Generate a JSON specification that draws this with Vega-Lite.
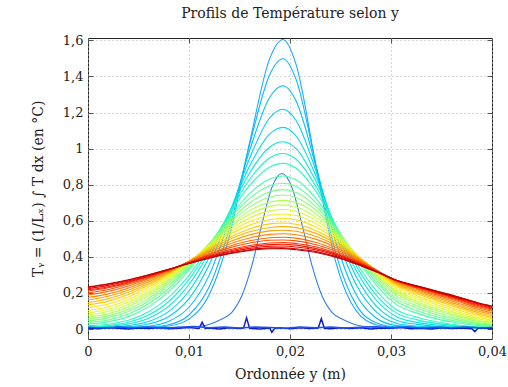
{
"$schema":"https://vega.github.io/schema/vega-lite/v6.json",
"width":404,"height":301,
"autosize":{"type":"none"},
"padding":{"left":88,"top":38,"right":16,"bottom":48},
"background":"white",
"config":{"font":"DejaVu Serif","view":{"stroke":"#222","strokeWidth":1},
"axis":{"labelFont":"DejaVu Serif","titleFont":"DejaVu Serif","labelColor":"#222","titleColor":"#222","labelFontSize":13,"titleFontSize":14,"titleFontWeight":"normal","tickColor":"#555","domain":false}},
"title":{"text":"Profils de Température selon y","fontSize":14,"fontWeight":"normal","font":"DejaVu Serif","color":"#222","offset":13,"anchor":"middle"},
"data":{"values":[
{"k":0,"y":0,"v":0.006},{"k":0,"y":0.001,"v":0.002},{"k":0,"y":0.002,"v":0.007},{"k":0,"y":0.003,"v":0.004},{"k":0,"y":0.004,"v":0.001},{"k":0,"y":0.005,"v":0.006},{"k":0,"y":0.006,"v":0.003},{"k":0,"y":0.007,"v":0.008},{"k":0,"y":0.008,"v":0.002},{"k":0,"y":0.009,"v":0.005},{"k":0,"y":0.01,"v":0.009},{"k":0,"y":0.011,"v":0.003},{"k":0,"y":0.0113,"v":0.038},{"k":0,"y":0.0116,"v":0.004},{"k":0,"y":0.012,"v":0.006},{"k":0,"y":0.013,"v":0.001},{"k":0,"y":0.014,"v":0.007},{"k":0,"y":0.015,"v":0.003},{"k":0,"y":0.0154,"v":0.005},{"k":0,"y":0.0157,"v":0.062},{"k":0,"y":0.016,"v":0.004},{"k":0,"y":0.017,"v":0.0},{"k":0,"y":0.018,"v":0.006},{"k":0,"y":0.0182,"v":-0.018},{"k":0,"y":0.0185,"v":0.004},{"k":0,"y":0.019,"v":0.007},{"k":0,"y":0.02,"v":0.002},{"k":0,"y":0.021,"v":0.008},{"k":0,"y":0.022,"v":0.003},{"k":0,"y":0.0228,"v":0.006},{"k":0,"y":0.0231,"v":0.058},{"k":0,"y":0.0234,"v":0.005},{"k":0,"y":0.024,"v":0.002},{"k":0,"y":0.025,"v":0.007},{"k":0,"y":0.026,"v":0.003},{"k":0,"y":0.027,"v":0.008},{"k":0,"y":0.028,"v":0.001},{"k":0,"y":0.029,"v":0.006},{"k":0,"y":0.03,"v":0.004},{"k":0,"y":0.031,"v":0.009},{"k":0,"y":0.032,"v":0.002},{"k":0,"y":0.033,"v":0.005},{"k":0,"y":0.034,"v":0.001},{"k":0,"y":0.035,"v":0.007},{"k":0,"y":0.036,"v":0.003},{"k":0,"y":0.037,"v":0.006},{"k":0,"y":0.038,"v":0.002},{"k":0,"y":0.0383,"v":-0.014},{"k":0,"y":0.0386,"v":0.004},{"k":0,"y":0.039,"v":0.006},{"k":0,"y":0.04,"v":0.003},
{"k":1,"y":0,"v":0.01},{"k":1,"y":0.0015,"v":0.006},{"k":1,"y":0.003,"v":0.011},{"k":1,"y":0.0045,"v":0.007},{"k":1,"y":0.006,"v":0.012},{"k":1,"y":0.0075,"v":0.005},{"k":1,"y":0.009,"v":0.01},{"k":1,"y":0.0105,"v":0.014},{"k":1,"y":0.012,"v":0.007},{"k":1,"y":0.0135,"v":0.011},{"k":1,"y":0.015,"v":0.006},{"k":1,"y":0.0165,"v":0.012},{"k":1,"y":0.018,"v":0.009},{"k":1,"y":0.0195,"v":0.005},{"k":1,"y":0.021,"v":0.011},{"k":1,"y":0.0225,"v":0.007},{"k":1,"y":0.024,"v":0.012},{"k":1,"y":0.0255,"v":0.006},{"k":1,"y":0.027,"v":0.01},{"k":1,"y":0.0285,"v":0.013},{"k":1,"y":0.03,"v":0.007},{"k":1,"y":0.0315,"v":0.011},{"k":1,"y":0.033,"v":0.006},{"k":1,"y":0.0345,"v":0.01},{"k":1,"y":0.036,"v":0.008},{"k":1,"y":0.0375,"v":0.012},{"k":1,"y":0.039,"v":0.006},{"k":1,"y":0.04,"v":0.009},
{"k":2,"y":0,"v":0.008},{"k":2,"y":0.008,"v":0.009},{"k":2,"y":0.0112,"v":0.016},{"k":2,"y":0.0122,"v":0.03},{"k":2,"y":0.0132,"v":0.055},{"k":2,"y":0.0142,"v":0.09},{"k":2,"y":0.0152,"v":0.18},{"k":2,"y":0.0162,"v":0.347},{"k":2,"y":0.0172,"v":0.577},{"k":2,"y":0.0182,"v":0.784},{"k":2,"y":0.0192,"v":0.862},{"k":2,"y":0.0202,"v":0.784},{"k":2,"y":0.0212,"v":0.577},{"k":2,"y":0.0222,"v":0.347},{"k":2,"y":0.0232,"v":0.18},{"k":2,"y":0.0242,"v":0.09},{"k":2,"y":0.0252,"v":0.055},{"k":2,"y":0.0262,"v":0.03},{"k":2,"y":0.0272,"v":0.016},{"k":2,"y":0.03,"v":0.009},{"k":2,"y":0.04,"v":0.008},
{"k":3,"y":0,"v":0.008},{"k":3,"y":0.002,"v":0.009},{"k":3,"y":0.004,"v":0.007},{"k":3,"y":0.006,"v":0.009},{"k":3,"y":0.008,"v":0.017},{"k":3,"y":0.01,"v":0.055},{"k":3,"y":0.012,"v":0.19},{"k":3,"y":0.014,"v":0.516},{"k":3,"y":0.016,"v":1.034},{"k":3,"y":0.018,"v":1.5},{"k":3,"y":0.0193,"v":1.605},{"k":3,"y":0.0206,"v":1.467},{"k":3,"y":0.0226,"v":0.896},{"k":3,"y":0.0246,"v":0.358},{"k":3,"y":0.0266,"v":0.098},{"k":3,"y":0.0286,"v":0.023},{"k":3,"y":0.0306,"v":0.01},{"k":3,"y":0.0326,"v":0.008},{"k":3,"y":0.0346,"v":0.009},{"k":3,"y":0.0366,"v":0.007},{"k":3,"y":0.0386,"v":0.008},{"k":3,"y":0.04,"v":0.008},
{"k":4,"y":0,"v":0.007},{"k":4,"y":0.002,"v":0.009},{"k":4,"y":0.004,"v":0.008},{"k":4,"y":0.006,"v":0.011},{"k":4,"y":0.008,"v":0.024},{"k":4,"y":0.01,"v":0.078},{"k":4,"y":0.012,"v":0.234},{"k":4,"y":0.014,"v":0.559},{"k":4,"y":0.016,"v":1.021},{"k":4,"y":0.018,"v":1.411},{"k":4,"y":0.0193,"v":1.498},{"k":4,"y":0.0206,"v":1.384},{"k":4,"y":0.0226,"v":0.902},{"k":4,"y":0.0246,"v":0.407},{"k":4,"y":0.0266,"v":0.13},{"k":4,"y":0.0286,"v":0.034},{"k":4,"y":0.0306,"v":0.012},{"k":4,"y":0.0326,"v":0.009},{"k":4,"y":0.0346,"v":0.007},{"k":4,"y":0.0366,"v":0.008},{"k":4,"y":0.0386,"v":0.009},{"k":4,"y":0.04,"v":0.008},
{"k":5,"y":0,"v":0.009},{"k":5,"y":0.002,"v":0.008},{"k":5,"y":0.004,"v":0.01},{"k":5,"y":0.006,"v":0.016},{"k":5,"y":0.008,"v":0.043},{"k":5,"y":0.01,"v":0.121},{"k":5,"y":0.012,"v":0.299},{"k":5,"y":0.014,"v":0.608},{"k":5,"y":0.016,"v":0.989},{"k":5,"y":0.018,"v":1.285},{"k":5,"y":0.0193,"v":1.348},{"k":5,"y":0.0206,"v":1.264},{"k":5,"y":0.0226,"v":0.894},{"k":5,"y":0.0246,"v":0.47},{"k":5,"y":0.0266,"v":0.186},{"k":5,"y":0.0286,"v":0.059},{"k":5,"y":0.0306,"v":0.019},{"k":5,"y":0.0326,"v":0.011},{"k":5,"y":0.0346,"v":0.008},{"k":5,"y":0.0366,"v":0.009},{"k":5,"y":0.0386,"v":0.007},{"k":5,"y":0.04,"v":0.008},
{"k":6,"y":0,"v":0.008},{"k":6,"y":0.002,"v":0.009},{"k":6,"y":0.004,"v":0.013},{"k":6,"y":0.006,"v":0.028},{"k":6,"y":0.008,"v":0.07},{"k":6,"y":0.01,"v":0.169},{"k":6,"y":0.012,"v":0.357},{"k":6,"y":0.014,"v":0.636},{"k":6,"y":0.016,"v":0.946},{"k":6,"y":0.018,"v":1.171},{"k":6,"y":0.0193,"v":1.218},{"k":6,"y":0.0206,"v":1.156},{"k":6,"y":0.0226,"v":0.872},{"k":6,"y":0.0246,"v":0.516},{"k":6,"y":0.0266,"v":0.241},{"k":6,"y":0.0286,"v":0.092},{"k":6,"y":0.0306,"v":0.031},{"k":6,"y":0.0326,"v":0.017},{"k":6,"y":0.0346,"v":0.011},{"k":6,"y":0.0366,"v":0.009},{"k":6,"y":0.0386,"v":0.008},{"k":6,"y":0.04,"v":0.008},
{"k":7,"y":0,"v":0.009},{"k":7,"y":0.002,"v":0.011},{"k":7,"y":0.004,"v":0.019},{"k":7,"y":0.006,"v":0.042},{"k":7,"y":0.008,"v":0.098},{"k":7,"y":0.01,"v":0.211},{"k":7,"y":0.012,"v":0.398},{"k":7,"y":0.014,"v":0.647},{"k":7,"y":0.016,"v":0.904},{"k":7,"y":0.018,"v":1.082},{"k":7,"y":0.0193,"v":1.118},{"k":7,"y":0.0206,"v":1.07},{"k":7,"y":0.0226,"v":0.844},{"k":7,"y":0.0246,"v":0.542},{"k":7,"y":0.0266,"v":0.286},{"k":7,"y":0.0286,"v":0.125},{"k":7,"y":0.0306,"v":0.048},{"k":7,"y":0.0326,"v":0.026},{"k":7,"y":0.0346,"v":0.015},{"k":7,"y":0.0366,"v":0.011},{"k":7,"y":0.0386,"v":0.009},{"k":7,"y":0.04,"v":0.008},
{"k":8,"y":0,"v":0.011},{"k":8,"y":0.002,"v":0.015},{"k":8,"y":0.004,"v":0.028},{"k":8,"y":0.006,"v":0.06},{"k":8,"y":0.008,"v":0.127},{"k":8,"y":0.01,"v":0.247},{"k":8,"y":0.012,"v":0.426},{"k":8,"y":0.014,"v":0.648},{"k":8,"y":0.016,"v":0.865},{"k":8,"y":0.018,"v":1.009},{"k":8,"y":0.0193,"v":1.038},{"k":8,"y":0.0206,"v":1.0},{"k":8,"y":0.0226,"v":0.815},{"k":8,"y":0.0246,"v":0.557},{"k":8,"y":0.0266,"v":0.32},{"k":8,"y":0.0286,"v":0.157},{"k":8,"y":0.0306,"v":0.067},{"k":8,"y":0.0326,"v":0.037},{"k":8,"y":0.0346,"v":0.022},{"k":8,"y":0.0366,"v":0.014},{"k":8,"y":0.0386,"v":0.01},{"k":8,"y":0.04,"v":0.009},
{"k":9,"y":0,"v":0.014},{"k":9,"y":0.002,"v":0.02},{"k":9,"y":0.004,"v":0.038},{"k":9,"y":0.006,"v":0.078},{"k":9,"y":0.008,"v":0.153},{"k":9,"y":0.01,"v":0.275},{"k":9,"y":0.012,"v":0.445},{"k":9,"y":0.014,"v":0.644},{"k":9,"y":0.016,"v":0.829},{"k":9,"y":0.018,"v":0.949},{"k":9,"y":0.0193,"v":0.973},{"k":9,"y":0.0206,"v":0.941},{"k":9,"y":0.0226,"v":0.787},{"k":9,"y":0.0246,"v":0.563},{"k":9,"y":0.0266,"v":0.346},{"k":9,"y":0.0286,"v":0.184},{"k":9,"y":0.0306,"v":0.087},{"k":9,"y":0.0326,"v":0.051},{"k":9,"y":0.0346,"v":0.03},{"k":9,"y":0.0366,"v":0.018},{"k":9,"y":0.0386,"v":0.011},{"k":9,"y":0.04,"v":0.01},
{"k":10,"y":0,"v":0.019},{"k":10,"y":0.002,"v":0.027},{"k":10,"y":0.004,"v":0.049},{"k":10,"y":0.006,"v":0.096},{"k":10,"y":0.008,"v":0.177},{"k":10,"y":0.01,"v":0.298},{"k":10,"y":0.012,"v":0.458},{"k":10,"y":0.014,"v":0.636},{"k":10,"y":0.016,"v":0.796},{"k":10,"y":0.018,"v":0.898},{"k":10,"y":0.0193,"v":0.918},{"k":10,"y":0.0206,"v":0.891},{"k":10,"y":0.0226,"v":0.76},{"k":10,"y":0.0246,"v":0.565},{"k":10,"y":0.0266,"v":0.366},{"k":10,"y":0.0286,"v":0.209},{"k":10,"y":0.0306,"v":0.106},{"k":10,"y":0.0326,"v":0.065},{"k":10,"y":0.0346,"v":0.039},{"k":10,"y":0.0366,"v":0.023},{"k":10,"y":0.0386,"v":0.014},{"k":10,"y":0.04,"v":0.011},
{"k":11,"y":0,"v":0.028},{"k":11,"y":0.002,"v":0.04},{"k":11,"y":0.004,"v":0.069},{"k":11,"y":0.006,"v":0.123},{"k":11,"y":0.008,"v":0.208},{"k":11,"y":0.01,"v":0.325},{"k":11,"y":0.012,"v":0.469},{"k":11,"y":0.014,"v":0.62},{"k":11,"y":0.016,"v":0.751},{"k":11,"y":0.018,"v":0.832},{"k":11,"y":0.0193,"v":0.848},{"k":11,"y":0.0206,"v":0.827},{"k":11,"y":0.0226,"v":0.722},{"k":11,"y":0.0246,"v":0.561},{"k":11,"y":0.0266,"v":0.388},{"k":11,"y":0.0286,"v":0.24},{"k":11,"y":0.0306,"v":0.134},{"k":11,"y":0.0326,"v":0.087},{"k":11,"y":0.0346,"v":0.055},{"k":11,"y":0.0366,"v":0.034},{"k":11,"y":0.0386,"v":0.02},{"k":11,"y":0.04,"v":0.015},
{"k":12,"y":0,"v":0.037},{"k":12,"y":0.002,"v":0.05},{"k":12,"y":0.004,"v":0.083},{"k":12,"y":0.006,"v":0.14},{"k":12,"y":0.008,"v":0.225},{"k":12,"y":0.01,"v":0.339},{"k":12,"y":0.012,"v":0.472},{"k":12,"y":0.014,"v":0.609},{"k":12,"y":0.016,"v":0.724},{"k":12,"y":0.018,"v":0.794},{"k":12,"y":0.0193,"v":0.808},{"k":12,"y":0.0206,"v":0.79},{"k":12,"y":0.0226,"v":0.698},{"k":12,"y":0.0246,"v":0.555},{"k":12,"y":0.0266,"v":0.397},{"k":12,"y":0.0286,"v":0.257},{"k":12,"y":0.0306,"v":0.151},{"k":12,"y":0.0326,"v":0.102},{"k":12,"y":0.0346,"v":0.067},{"k":12,"y":0.0366,"v":0.042},{"k":12,"y":0.0386,"v":0.025},{"k":12,"y":0.04,"v":0.018},
{"k":13,"y":0,"v":0.046},{"k":13,"y":0.002,"v":0.062},{"k":13,"y":0.004,"v":0.097},{"k":13,"y":0.006,"v":0.156},{"k":13,"y":0.008,"v":0.241},{"k":13,"y":0.01,"v":0.349},{"k":13,"y":0.012,"v":0.473},{"k":13,"y":0.014,"v":0.597},{"k":13,"y":0.016,"v":0.699},{"k":13,"y":0.018,"v":0.761},{"k":13,"y":0.0193,"v":0.773},{"k":13,"y":0.0206,"v":0.757},{"k":13,"y":0.0226,"v":0.677},{"k":13,"y":0.0246,"v":0.549},{"k":13,"y":0.0266,"v":0.404},{"k":13,"y":0.0286,"v":0.271},{"k":13,"y":0.0306,"v":0.166},{"k":13,"y":0.0326,"v":0.116},{"k":13,"y":0.0346,"v":0.078},{"k":13,"y":0.0366,"v":0.051},{"k":13,"y":0.0386,"v":0.03},{"k":13,"y":0.04,"v":0.022},
{"k":14,"y":0,"v":0.056},{"k":14,"y":0.002,"v":0.073},{"k":14,"y":0.004,"v":0.11},{"k":14,"y":0.006,"v":0.17},{"k":14,"y":0.008,"v":0.254},{"k":14,"y":0.01,"v":0.357},{"k":14,"y":0.012,"v":0.473},{"k":14,"y":0.014,"v":0.585},{"k":14,"y":0.016,"v":0.677},{"k":14,"y":0.018,"v":0.732},{"k":14,"y":0.0193,"v":0.743},{"k":14,"y":0.0206,"v":0.729},{"k":14,"y":0.0226,"v":0.657},{"k":14,"y":0.0246,"v":0.541},{"k":14,"y":0.0266,"v":0.408},{"k":14,"y":0.0286,"v":0.282},{"k":14,"y":0.0306,"v":0.18},{"k":14,"y":0.0326,"v":0.128},{"k":14,"y":0.0346,"v":0.089},{"k":14,"y":0.0366,"v":0.059},{"k":14,"y":0.0386,"v":0.036},{"k":14,"y":0.04,"v":0.026},
{"k":15,"y":0,"v":0.067},{"k":15,"y":0.002,"v":0.085},{"k":15,"y":0.004,"v":0.124},{"k":15,"y":0.006,"v":0.184},{"k":15,"y":0.008,"v":0.266},{"k":15,"y":0.01,"v":0.363},{"k":15,"y":0.012,"v":0.47},{"k":15,"y":0.014,"v":0.572},{"k":15,"y":0.016,"v":0.655},{"k":15,"y":0.018,"v":0.704},{"k":15,"y":0.0193,"v":0.713},{"k":15,"y":0.0206,"v":0.701},{"k":15,"y":0.0226,"v":0.637},{"k":15,"y":0.0246,"v":0.533},{"k":15,"y":0.0266,"v":0.411},{"k":15,"y":0.0286,"v":0.293},{"k":15,"y":0.0306,"v":0.193},{"k":15,"y":0.0326,"v":0.141},{"k":15,"y":0.0346,"v":0.101},{"k":15,"y":0.0366,"v":0.069},{"k":15,"y":0.0386,"v":0.043},{"k":15,"y":0.04,"v":0.032},
{"k":16,"y":0,"v":0.078},{"k":16,"y":0.002,"v":0.097},{"k":16,"y":0.004,"v":0.136},{"k":16,"y":0.006,"v":0.196},{"k":16,"y":0.008,"v":0.275},{"k":16,"y":0.01,"v":0.367},{"k":16,"y":0.012,"v":0.467},{"k":16,"y":0.014,"v":0.561},{"k":16,"y":0.016,"v":0.636},{"k":16,"y":0.018,"v":0.68},{"k":16,"y":0.0193,"v":0.688},{"k":16,"y":0.0206,"v":0.677},{"k":16,"y":0.0226,"v":0.619},{"k":16,"y":0.0246,"v":0.525},{"k":16,"y":0.0266,"v":0.412},{"k":16,"y":0.0286,"v":0.3},{"k":16,"y":0.0306,"v":0.204},{"k":16,"y":0.0326,"v":0.152},{"k":16,"y":0.0346,"v":0.111},{"k":16,"y":0.0366,"v":0.077},{"k":16,"y":0.0386,"v":0.049},{"k":16,"y":0.04,"v":0.037},
{"k":17,"y":0,"v":0.09},{"k":17,"y":0.002,"v":0.11},{"k":17,"y":0.004,"v":0.15},{"k":17,"y":0.006,"v":0.208},{"k":17,"y":0.008,"v":0.284},{"k":17,"y":0.01,"v":0.371},{"k":17,"y":0.012,"v":0.463},{"k":17,"y":0.014,"v":0.549},{"k":17,"y":0.016,"v":0.616},{"k":17,"y":0.018,"v":0.655},{"k":17,"y":0.0193,"v":0.663},{"k":17,"y":0.0206,"v":0.653},{"k":17,"y":0.0226,"v":0.601},{"k":17,"y":0.0246,"v":0.516},{"k":17,"y":0.0266,"v":0.412},{"k":17,"y":0.0286,"v":0.307},{"k":17,"y":0.0306,"v":0.214},{"k":17,"y":0.0326,"v":0.164},{"k":17,"y":0.0346,"v":0.122},{"k":17,"y":0.0366,"v":0.087},{"k":17,"y":0.0386,"v":0.057},{"k":17,"y":0.04,"v":0.043},
{"k":18,"y":0,"v":0.103},{"k":18,"y":0.002,"v":0.124},{"k":18,"y":0.004,"v":0.163},{"k":18,"y":0.006,"v":0.22},{"k":18,"y":0.008,"v":0.292},{"k":18,"y":0.01,"v":0.374},{"k":18,"y":0.012,"v":0.458},{"k":18,"y":0.014,"v":0.535},{"k":18,"y":0.016,"v":0.596},{"k":18,"y":0.018,"v":0.631},{"k":18,"y":0.0193,"v":0.638},{"k":18,"y":0.0206,"v":0.629},{"k":18,"y":0.0226,"v":0.583},{"k":18,"y":0.0246,"v":0.506},{"k":18,"y":0.0266,"v":0.411},{"k":18,"y":0.0286,"v":0.313},{"k":18,"y":0.0306,"v":0.224},{"k":18,"y":0.0326,"v":0.175},{"k":18,"y":0.0346,"v":0.133},{"k":18,"y":0.0366,"v":0.097},{"k":18,"y":0.0386,"v":0.065},{"k":18,"y":0.04,"v":0.05},
{"k":19,"y":0,"v":0.118},{"k":19,"y":0.002,"v":0.139},{"k":19,"y":0.004,"v":0.178},{"k":19,"y":0.006,"v":0.232},{"k":19,"y":0.008,"v":0.3},{"k":19,"y":0.01,"v":0.375},{"k":19,"y":0.012,"v":0.452},{"k":19,"y":0.014,"v":0.523},{"k":19,"y":0.016,"v":0.576},{"k":19,"y":0.018,"v":0.607},{"k":19,"y":0.0193,"v":0.613},{"k":19,"y":0.0206,"v":0.605},{"k":19,"y":0.0226,"v":0.564},{"k":19,"y":0.0246,"v":0.495},{"k":19,"y":0.0266,"v":0.409},{"k":19,"y":0.0286,"v":0.318},{"k":19,"y":0.0306,"v":0.234},{"k":19,"y":0.0326,"v":0.185},{"k":19,"y":0.0346,"v":0.144},{"k":19,"y":0.0366,"v":0.107},{"k":19,"y":0.0386,"v":0.074},{"k":19,"y":0.04,"v":0.058},
{"k":20,"y":0,"v":0.134},{"k":20,"y":0.002,"v":0.155},{"k":20,"y":0.004,"v":0.192},{"k":20,"y":0.006,"v":0.244},{"k":20,"y":0.008,"v":0.307},{"k":20,"y":0.01,"v":0.377},{"k":20,"y":0.012,"v":0.446},{"k":20,"y":0.014,"v":0.508},{"k":20,"y":0.016,"v":0.555},{"k":20,"y":0.018,"v":0.583},{"k":20,"y":0.0193,"v":0.588},{"k":20,"y":0.0206,"v":0.581},{"k":20,"y":0.0226,"v":0.545},{"k":20,"y":0.0246,"v":0.483},{"k":20,"y":0.0266,"v":0.405},{"k":20,"y":0.0286,"v":0.322},{"k":20,"y":0.0306,"v":0.242},{"k":20,"y":0.0326,"v":0.196},{"k":20,"y":0.0346,"v":0.155},{"k":20,"y":0.0366,"v":0.118},{"k":20,"y":0.0386,"v":0.083},{"k":20,"y":0.04,"v":0.066},
{"k":21,"y":0,"v":0.147},{"k":21,"y":0.002,"v":0.168},{"k":21,"y":0.004,"v":0.204},{"k":21,"y":0.006,"v":0.253},{"k":21,"y":0.008,"v":0.312},{"k":21,"y":0.01,"v":0.376},{"k":21,"y":0.012,"v":0.44},{"k":21,"y":0.014,"v":0.496},{"k":21,"y":0.016,"v":0.539},{"k":21,"y":0.018,"v":0.563},{"k":21,"y":0.0193,"v":0.568},{"k":21,"y":0.0206,"v":0.562},{"k":21,"y":0.0226,"v":0.529},{"k":21,"y":0.0246,"v":0.473},{"k":21,"y":0.0266,"v":0.402},{"k":21,"y":0.0286,"v":0.324},{"k":21,"y":0.0306,"v":0.249},{"k":21,"y":0.0326,"v":0.204},{"k":21,"y":0.0346,"v":0.164},{"k":21,"y":0.0366,"v":0.127},{"k":21,"y":0.0386,"v":0.092},{"k":21,"y":0.04,"v":0.074},
{"k":22,"y":0,"v":0.161},{"k":22,"y":0.002,"v":0.182},{"k":22,"y":0.004,"v":0.216},{"k":22,"y":0.006,"v":0.262},{"k":22,"y":0.008,"v":0.316},{"k":22,"y":0.01,"v":0.375},{"k":22,"y":0.012,"v":0.433},{"k":22,"y":0.014,"v":0.484},{"k":22,"y":0.016,"v":0.522},{"k":22,"y":0.018,"v":0.544},{"k":22,"y":0.0193,"v":0.548},{"k":22,"y":0.0206,"v":0.542},{"k":22,"y":0.0226,"v":0.513},{"k":22,"y":0.0246,"v":0.462},{"k":22,"y":0.0266,"v":0.397},{"k":22,"y":0.0286,"v":0.325},{"k":22,"y":0.0306,"v":0.254},{"k":22,"y":0.0326,"v":0.211},{"k":22,"y":0.0346,"v":0.172},{"k":22,"y":0.0366,"v":0.136},{"k":22,"y":0.0386,"v":0.1},{"k":22,"y":0.04,"v":0.082},
{"k":23,"y":0,"v":0.175},{"k":23,"y":0.002,"v":0.195},{"k":23,"y":0.004,"v":0.228},{"k":23,"y":0.006,"v":0.27},{"k":23,"y":0.008,"v":0.32},{"k":23,"y":0.01,"v":0.374},{"k":23,"y":0.012,"v":0.426},{"k":23,"y":0.014,"v":0.472},{"k":23,"y":0.016,"v":0.505},{"k":23,"y":0.018,"v":0.525},{"k":23,"y":0.0193,"v":0.528},{"k":23,"y":0.0206,"v":0.523},{"k":23,"y":0.0226,"v":0.497},{"k":23,"y":0.0246,"v":0.451},{"k":23,"y":0.0266,"v":0.392},{"k":23,"y":0.0286,"v":0.325},{"k":23,"y":0.0306,"v":0.259},{"k":23,"y":0.0326,"v":0.218},{"k":23,"y":0.0346,"v":0.18},{"k":23,"y":0.0366,"v":0.145},{"k":23,"y":0.0386,"v":0.109},{"k":23,"y":0.04,"v":0.09},
{"k":24,"y":0,"v":0.189},{"k":24,"y":0.002,"v":0.209},{"k":24,"y":0.004,"v":0.239},{"k":24,"y":0.006,"v":0.279},{"k":24,"y":0.008,"v":0.324},{"k":24,"y":0.01,"v":0.372},{"k":24,"y":0.012,"v":0.418},{"k":24,"y":0.014,"v":0.459},{"k":24,"y":0.016,"v":0.489},{"k":24,"y":0.018,"v":0.506},{"k":24,"y":0.0193,"v":0.509},{"k":24,"y":0.0206,"v":0.504},{"k":24,"y":0.0226,"v":0.48},{"k":24,"y":0.0246,"v":0.439},{"k":24,"y":0.0266,"v":0.386},{"k":24,"y":0.0286,"v":0.325},{"k":24,"y":0.0306,"v":0.263},{"k":24,"y":0.0326,"v":0.224},{"k":24,"y":0.0346,"v":0.188},{"k":24,"y":0.0366,"v":0.154},{"k":24,"y":0.0386,"v":0.118},{"k":24,"y":0.04,"v":0.099},
{"k":25,"y":0,"v":0.2},{"k":25,"y":0.002,"v":0.219},{"k":25,"y":0.004,"v":0.248},{"k":25,"y":0.006,"v":0.284},{"k":25,"y":0.008,"v":0.326},{"k":25,"y":0.01,"v":0.371},{"k":25,"y":0.012,"v":0.412},{"k":25,"y":0.014,"v":0.45},{"k":25,"y":0.016,"v":0.477},{"k":25,"y":0.018,"v":0.492},{"k":25,"y":0.0193,"v":0.494},{"k":25,"y":0.0206,"v":0.489},{"k":25,"y":0.0226,"v":0.467},{"k":25,"y":0.0246,"v":0.43},{"k":25,"y":0.0266,"v":0.38},{"k":25,"y":0.0286,"v":0.324},{"k":25,"y":0.0306,"v":0.265},{"k":25,"y":0.0326,"v":0.228},{"k":25,"y":0.0346,"v":0.194},{"k":25,"y":0.0366,"v":0.16},{"k":25,"y":0.0386,"v":0.125},{"k":25,"y":0.04,"v":0.105},
{"k":26,"y":0,"v":0.211},{"k":26,"y":0.002,"v":0.229},{"k":26,"y":0.004,"v":0.256},{"k":26,"y":0.006,"v":0.29},{"k":26,"y":0.008,"v":0.328},{"k":26,"y":0.01,"v":0.369},{"k":26,"y":0.012,"v":0.407},{"k":26,"y":0.014,"v":0.44},{"k":26,"y":0.016,"v":0.463},{"k":26,"y":0.018,"v":0.477},{"k":26,"y":0.0193,"v":0.48},{"k":26,"y":0.0206,"v":0.474},{"k":26,"y":0.0226,"v":0.455},{"k":26,"y":0.0246,"v":0.42},{"k":26,"y":0.0266,"v":0.375},{"k":26,"y":0.0286,"v":0.322},{"k":26,"y":0.0306,"v":0.267},{"k":26,"y":0.0326,"v":0.232},{"k":26,"y":0.0346,"v":0.199},{"k":26,"y":0.0366,"v":0.166},{"k":26,"y":0.0386,"v":0.131},{"k":26,"y":0.04,"v":0.112},
{"k":27,"y":0,"v":0.218},{"k":27,"y":0.002,"v":0.235},{"k":27,"y":0.004,"v":0.261},{"k":27,"y":0.006,"v":0.293},{"k":27,"y":0.008,"v":0.329},{"k":27,"y":0.01,"v":0.367},{"k":27,"y":0.012,"v":0.402},{"k":27,"y":0.014,"v":0.433},{"k":27,"y":0.016,"v":0.455},{"k":27,"y":0.018,"v":0.468},{"k":27,"y":0.0193,"v":0.47},{"k":27,"y":0.0206,"v":0.465},{"k":27,"y":0.0226,"v":0.446},{"k":27,"y":0.0246,"v":0.414},{"k":27,"y":0.0266,"v":0.371},{"k":27,"y":0.0286,"v":0.321},{"k":27,"y":0.0306,"v":0.268},{"k":27,"y":0.0326,"v":0.234},{"k":27,"y":0.0346,"v":0.202},{"k":27,"y":0.0366,"v":0.17},{"k":27,"y":0.0386,"v":0.136},{"k":27,"y":0.04,"v":0.116},
{"k":28,"y":0,"v":0.224},{"k":28,"y":0.002,"v":0.242},{"k":28,"y":0.004,"v":0.266},{"k":28,"y":0.006,"v":0.296},{"k":28,"y":0.008,"v":0.33},{"k":28,"y":0.01,"v":0.365},{"k":28,"y":0.012,"v":0.398},{"k":28,"y":0.014,"v":0.427},{"k":28,"y":0.016,"v":0.447},{"k":28,"y":0.018,"v":0.459},{"k":28,"y":0.0193,"v":0.46},{"k":28,"y":0.0206,"v":0.455},{"k":28,"y":0.0226,"v":0.438},{"k":28,"y":0.0246,"v":0.407},{"k":28,"y":0.0266,"v":0.366},{"k":28,"y":0.0286,"v":0.319},{"k":28,"y":0.0306,"v":0.269},{"k":28,"y":0.0326,"v":0.236},{"k":28,"y":0.0346,"v":0.205},{"k":28,"y":0.0366,"v":0.174},{"k":28,"y":0.0386,"v":0.14},{"k":28,"y":0.04,"v":0.121},
{"k":29,"y":0,"v":0.231},{"k":29,"y":0.002,"v":0.248},{"k":29,"y":0.004,"v":0.271},{"k":29,"y":0.006,"v":0.3},{"k":29,"y":0.008,"v":0.331},{"k":29,"y":0.01,"v":0.364},{"k":29,"y":0.012,"v":0.394},{"k":29,"y":0.014,"v":0.421},{"k":29,"y":0.016,"v":0.44},{"k":29,"y":0.018,"v":0.45},{"k":29,"y":0.0193,"v":0.451},{"k":29,"y":0.0206,"v":0.445},{"k":29,"y":0.0226,"v":0.429},{"k":29,"y":0.0246,"v":0.4},{"k":29,"y":0.0266,"v":0.362},{"k":29,"y":0.0286,"v":0.317},{"k":29,"y":0.0306,"v":0.269},{"k":29,"y":0.0326,"v":0.238},{"k":29,"y":0.0346,"v":0.208},{"k":29,"y":0.0366,"v":0.177},{"k":29,"y":0.0386,"v":0.144},{"k":29,"y":0.04,"v":0.125},
{"k":30,"y":0,"v":0.234},{"k":30,"y":0.002,"v":0.251},{"k":30,"y":0.004,"v":0.273},{"k":30,"y":0.006,"v":0.301},{"k":30,"y":0.008,"v":0.332},{"k":30,"y":0.01,"v":0.363},{"k":30,"y":0.012,"v":0.392},{"k":30,"y":0.014,"v":0.417},{"k":30,"y":0.016,"v":0.435},{"k":30,"y":0.018,"v":0.445},{"k":30,"y":0.0193,"v":0.446},{"k":30,"y":0.0206,"v":0.44},{"k":30,"y":0.0226,"v":0.424},{"k":30,"y":0.0246,"v":0.397},{"k":30,"y":0.0266,"v":0.36},{"k":30,"y":0.0286,"v":0.316},{"k":30,"y":0.0306,"v":0.269},{"k":30,"y":0.0326,"v":0.239},{"k":30,"y":0.0346,"v":0.209},{"k":30,"y":0.0366,"v":0.179},{"k":30,"y":0.0386,"v":0.146},{"k":30,"y":0.04,"v":0.128}
]},
"resolve":{"axis":{"x":"independent","y":"independent"}},
"layer":[
{"transform":[{"filter":"datum.k >= 2"}],
"mark":{"type":"line","strokeWidth":1.1,"interpolate":"monotone","clip":true},
"encoding":{
"x":{"field":"y","type":"quantitative","scale":{"domain":[0,0.04],"nice":false,"zero":false},
"axis":{"orient":"bottom","values":[0,0.01,0.02,0.03,0.04],"labelExpr":"replace(format(datum.value,'~g'),'.',',')","title":"Ordonnée y (m)","titlePadding":9,"tickSize":-5,"labelPadding":11,"grid":true,"gridDash":[1,3],"gridColor":"#b0b0b0","labelFlush":false}},
"y":{"field":"v","type":"quantitative","scale":{"domain":[-0.055,1.613],"nice":false,"zero":false},
"axis":{"orient":"left","values":[0,0.2,0.4,0.6,0.8,1,1.2,1.4,1.6],"labelExpr":"replace(format(datum.value,'~g'),'.',',')","title":"Tᵧ = (1/Lₓ) ∫ T dx   (en °C)","titlePadding":17,"tickSize":-5,"labelPadding":10,"grid":true,"gridDash":[1,3],"gridColor":"#b0b0b0"}},
"color":{"field":"k","type":"ordinal","legend":null,"scale":{"domain":[0,1,2,3,4,5,6,7,8,9,10,11,12,13,14,15,16,17,18,19,20,21,22,23,24,25,26,27,28,29,30],"range":["#0a1ec8","#1e50f0","#2f7fe8","#1aaaff","#10b4ff","#00c0fa","#00ccf4","#00d8ec","#08e4e0","#18f0d0","#30f8bc","#48fca8","#60ff94","#78ff80","#90ff6c","#a8ff58","#c0ff44","#d8fa30","#eef020","#ffe010","#ffcc00","#ffb400","#ff9c00","#ff8400","#ff6a00","#ff5000","#ff3200","#f81800","#e80800","#d40000","#c00000"]}},
"detail":{"field":"k"}}},
{"transform":[{"filter":"datum.k < 2"}],
"mark":{"type":"line","strokeWidth":1.5,"clip":true},
"encoding":{
"x":{"field":"y","type":"quantitative","scale":{"domain":[0,0.04],"nice":false,"zero":false},
"axis":{"orient":"top","values":[0,0.01,0.02,0.03,0.04],"labels":false,"title":null,"tickSize":-5,"grid":false}},
"y":{"field":"v","type":"quantitative","scale":{"domain":[-0.055,1.613],"nice":false,"zero":false},
"axis":{"orient":"right","values":[0,0.2,0.4,0.6,0.8,1,1.2,1.4,1.6],"labels":false,"title":null,"tickSize":-5,"grid":false}},
"color":{"field":"k","type":"ordinal","legend":null},
"detail":{"field":"k"}}}
]
}
